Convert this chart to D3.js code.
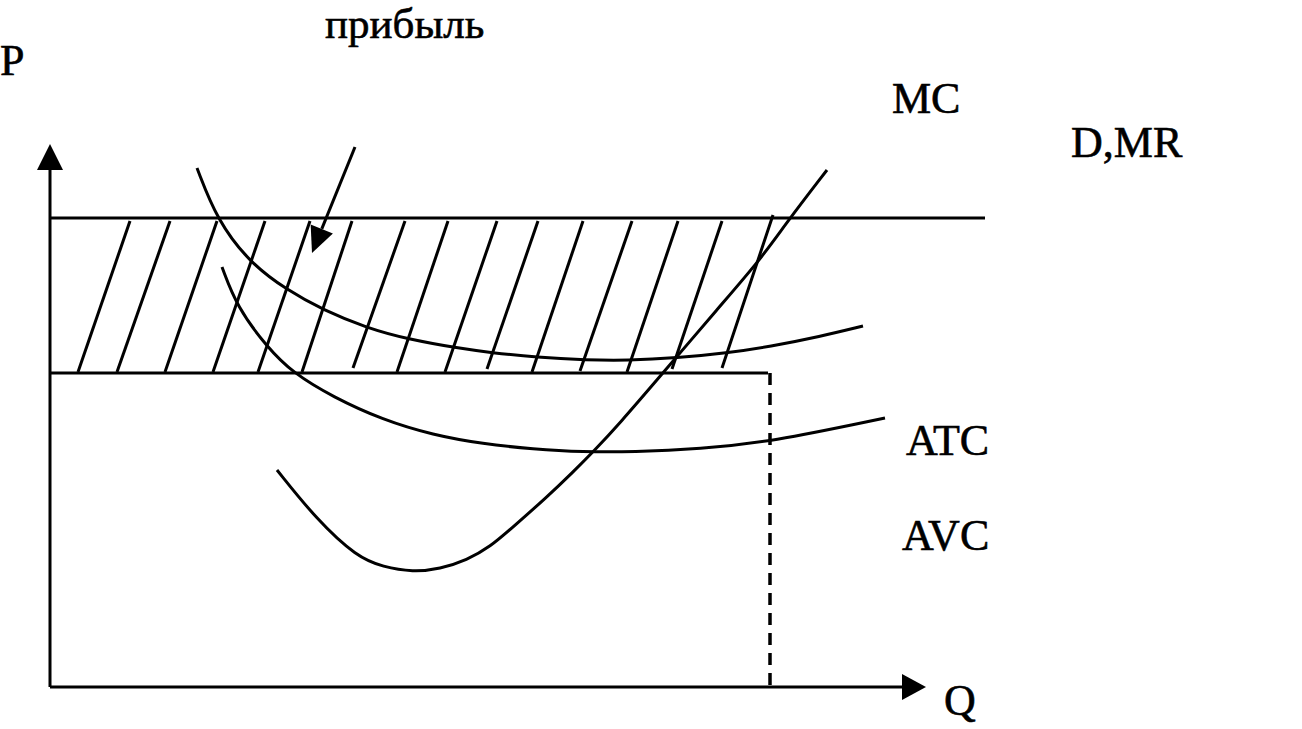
<!DOCTYPE html>
<html>
<head>
<meta charset="utf-8">
<script src="https://cdn.jsdelivr.net/npm/d3@7"></script>
<style>
  body { margin: 0; background: #fff; }
  text { font-family: "Liberation Serif", "Times New Roman", serif; fill: #000; }
</style>
</head>
<body>
<div id="chart"></div>
<script>
// кривые (Q, P)
var atcQ = [14.7, 16.7, 20.0, 23.7, 27.3, 31.7, 35.7, 41.0, 44.0, 48.7, 53.7, 57.7, 62.7, 67.7, 72.0, 77.0, 81.3];
var atcP = [51.9, 46.7, 42.4, 39.7, 37.7, 35.9, 34.8, 33.85, 33.45, 32.95, 32.7, 32.65, 32.9, 33.4, 34.05, 35.05, 36.1];
var avcQ = [17.2, 18.7, 21.7, 24.3, 28.3, 33.3, 38.3, 43.3, 48.3, 53.3, 58.3, 65.0, 72.0, 83.5];
var avcP = [42.0, 38.0, 34.0, 31.4, 29.0, 26.7, 25.2, 24.3, 23.8, 23.5, 23.5, 23.8, 24.5, 26.9];
var mcQ = [22.7, 26.7, 30.7, 33.3, 36.3, 39.0, 41.7, 44.0, 46.3, 49.7, 52.3, 54.3, 57.0, 60.7, 67.0, 71.0, 73.7, 77.7];
var mcP = [21.7, 16.7, 13.0, 12.0, 11.5, 11.8, 12.7, 14.0, 16.0, 19.0, 21.5, 23.5, 26.4, 30.7, 38.1, 42.7, 46.5, 51.7];

// цена (D,MR), средние издержки, объём
var priceP = 46.9;
var priceQmax = 93.5;
var costP = 31.4;
var outputQ = 72;

// штриховка прибыли: верхний и нижний концы линий
var hatchTopQ = [8.0, 12.0, 16.7, 21.5, 26.0, 30.2, 35.5, 39.8, 44.7, 48.8, 53.3, 58.2, 62.8, 67.2, 72.3];
var hatchBotQ = [2.8, 6.7, 11.5, 16.3, 20.8, 25.2, 30.3, 34.7, 39.5, 43.7, 48.2, 53.0, 57.7, 62.2, 67.2];
var hatchTopP = [46.6, 46.6, 46.6, 46.6, 46.6, 46.6, 46.6, 46.6, 46.6, 46.6, 46.6, 46.6, 46.6, 46.6, 47.2];
var hatchBotP = [31.5, 31.5, 31.5, 31.5, 31.5, 31.5, 31.9, 31.5, 31.5, 31.8, 31.5, 31.6, 31.5, 31.8, 31.9];

// стрелка «прибыль»
var arrowQ = [30.5, 26.2];
var arrowP = [54.0, 43.4];

var labels = [
  {t: "прибыль", x: 325, y: 38, s: 43},
  {t: "P", x: 0, y: 75, s: 44},
  {t: "MC", x: 892, y: 113, s: 44},
  {t: "D,MR", x: 1071, y: 157, s: 44},
  {t: "ATC", x: 906, y: 455, s: 44},
  {t: "AVC", x: 902, y: 550, s: 44},
  {t: "Q", x: 944, y: 715, s: 44}
];

var widthx = 1302;
var heighty = 729;

var x = d3.scaleLinear().domain([0, 88]).range([50, 930]);
var y = d3.scaleLinear().domain([0, 54]).range([687, 147]);

var svg = d3.select("#chart")
    .append("svg")
    .attr("width", widthx)
    .attr("height", heighty);

var sw = 3;

function zip(qs, ps) {
    return qs.map(function(q, i) { return [q, ps[i]]; });
}

var line = d3.line()
    .x(function(d) { return x(d[0]); })
    .y(function(d) { return y(d[1]); })
    .curve(d3.curveBasis);

// штриховка
svg.selectAll(".hatch")
    .data(hatchTopQ)
    .enter().append("line")
    .attr("class", "hatch")
    .attr("x1", function(d, i) { return x(d); })
    .attr("y1", function(d, i) { return y(hatchTopP[i]); })
    .attr("x2", function(d, i) { return x(hatchBotQ[i]); })
    .attr("y2", function(d, i) { return y(hatchBotP[i]); })
    .attr("stroke", "#000")
    .attr("stroke-width", sw);

// D,MR
svg.append("line")
    .attr("x1", x(0)).attr("y1", y(priceP))
    .attr("x2", x(priceQmax)).attr("y2", y(priceP))
    .attr("stroke", "#000").attr("stroke-width", sw);

// уровень ATC
svg.append("line")
    .attr("x1", x(0)).attr("y1", y(costP))
    .attr("x2", x(outputQ) - 2).attr("y2", y(costP))
    .attr("stroke", "#000").attr("stroke-width", sw);

// пунктир
svg.append("line")
    .attr("x1", x(outputQ)).attr("y1", y(costP))
    .attr("x2", x(outputQ)).attr("y2", y(0))
    .attr("stroke", "#000").attr("stroke-width", 3.5)
    .attr("stroke-dasharray", "12,8");

// кривые
[zip(atcQ, atcP), zip(avcQ, avcP), zip(mcQ, mcP)].forEach(function(pts) {
    svg.append("path")
        .datum(pts)
        .attr("d", line)
        .attr("fill", "none")
        .attr("stroke", "#000")
        .attr("stroke-width", sw);
});

// оси
svg.append("line")
    .attr("x1", x(0)).attr("y1", y(0))
    .attr("x2", x(0)).attr("y2", y(51.8))
    .attr("stroke", "#000").attr("stroke-width", sw);
svg.append("line")
    .attr("x1", x(0)).attr("y1", y(0))
    .attr("x2", x(85.3)).attr("y2", y(0))
    .attr("stroke", "#000").attr("stroke-width", sw);

// наконечники осей
svg.append("path")
    .attr("d", "M" + x(0) + "," + y(54.3) + "L" + (x(0) - 13) + "," + y(51.7) + "L" + (x(0) + 13) + "," + y(51.7) + "Z")
    .attr("fill", "#000");
svg.append("path")
    .attr("d", "M" + x(87.6) + "," + y(0) + "L" + x(85.2) + "," + (y(0) - 13) + "L" + x(85.2) + "," + (y(0) + 13) + "Z")
    .attr("fill", "#000");

// стрелка к области прибыли
var ax1 = x(arrowQ[0]), ay1 = y(arrowP[0]), ax2 = x(arrowQ[1]), ay2 = y(arrowP[1]);
var dx = ax2 - ax1, dy = ay2 - ay1, len = Math.sqrt(dx * dx + dy * dy);
var ux = dx / len, uy = dy / len;
var headL = 26, headW = 12;
var bx = ax2 - ux * headL, by = ay2 - uy * headL;
svg.append("line")
    .attr("x1", ax1).attr("y1", ay1)
    .attr("x2", bx).attr("y2", by)
    .attr("stroke", "#000").attr("stroke-width", sw);
svg.append("path")
    .attr("d", "M" + ax2 + "," + ay2 +
        "L" + (bx - uy * headW) + "," + (by + ux * headW) +
        "L" + (bx + uy * headW) + "," + (by - ux * headW) + "Z")
    .attr("fill", "#000");

// подписи
svg.selectAll(".lbl")
    .data(labels)
    .enter().append("text")
    .attr("class", "lbl")
    .attr("x", function(d) { return d.x; })
    .attr("y", function(d) { return d.y; })
    .attr("font-size", function(d) { return d.s; })
    .attr("stroke", "#000")
    .attr("stroke-width", 0.6)
    .text(function(d) { return d.t; });
</script>
</body>
</html>
